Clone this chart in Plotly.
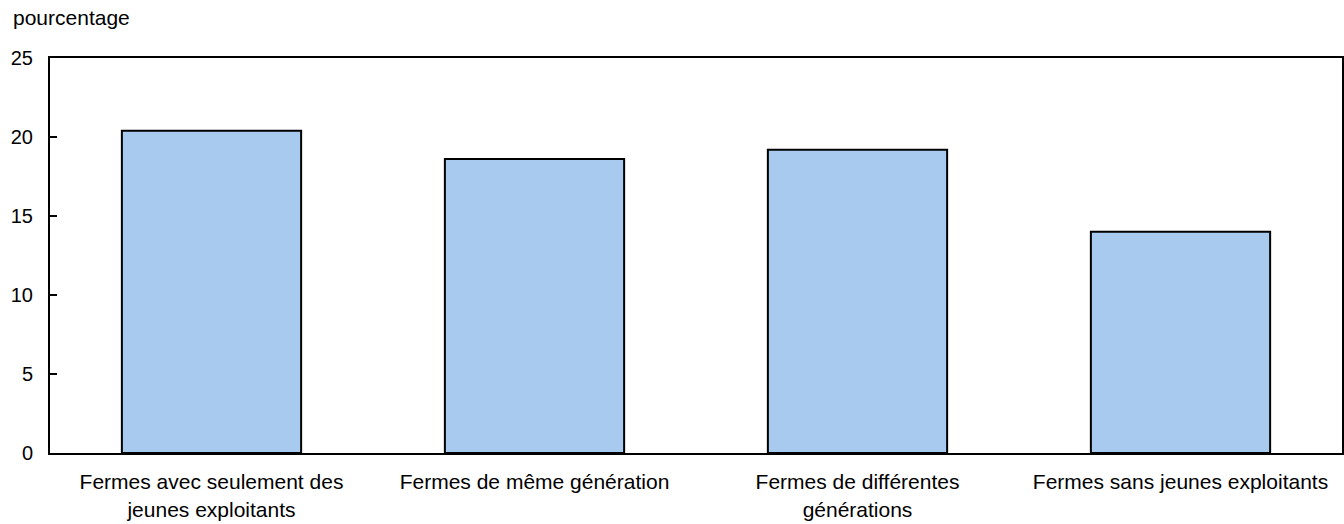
import plotly.graph_objects as go

categories = [
    "Fermes avec seulement des<br>jeunes exploitants",
    "Fermes de même génération",
    "Fermes de différentes<br>générations",
    "Fermes sans jeunes exploitants",
]
values = [20.4, 18.6, 19.2, 14.0]
y_ticks = [0, 5, 10, 15, 20, 25]

W, H = 1344, 524
L, R, T, B = 50, 2, 58, 71
pw = W - L - R

fig = go.Figure()
fig.add_trace(go.Bar(
    x=categories, y=values,
    marker=dict(color="#a7caee", line=dict(color="black", width=2)),
    width=0.555,
    hoverinfo="skip",
))

fig.update_layout(
    width=W, height=H,
    margin=dict(l=L, r=R, t=T, b=B, pad=0, autoexpand=False),
    plot_bgcolor="white", paper_bgcolor="white",
    font=dict(family="Liberation Sans, Arial, sans-serif", color="black", size=21),
    showlegend=False,
    annotations=[dict(
        text="pourcentage", xref="paper", yref="paper",
        x=(11 - L) / pw, y=1 + (T - 4) / (H - T - B),
        xanchor="left", yanchor="top", showarrow=False,
        font=dict(size=21, color="black"),
    )],
)
fig.update_yaxes(
    range=[0, 25], tickvals=y_ticks, automargin=False,
    showline=True, linecolor="black", linewidth=2, mirror=True,
    ticks="inside", ticklen=7, tickwidth=2, tickcolor="black",
    showgrid=False, zeroline=False,
    tickfont=dict(size=20), ticklabelstandoff=11,
)
fig.update_xaxes(
    automargin=False,
    showline=True, linecolor="black", linewidth=2, mirror=True,
    ticks="", showgrid=False,
    tickfont=dict(size=21), ticklabelstandoff=9,
)

fig.write_html(
    "out.html",
    config={"displayModeBar": False},
    post_script="document.body.style.margin='0';document.body.style.overflow='hidden';",
)
